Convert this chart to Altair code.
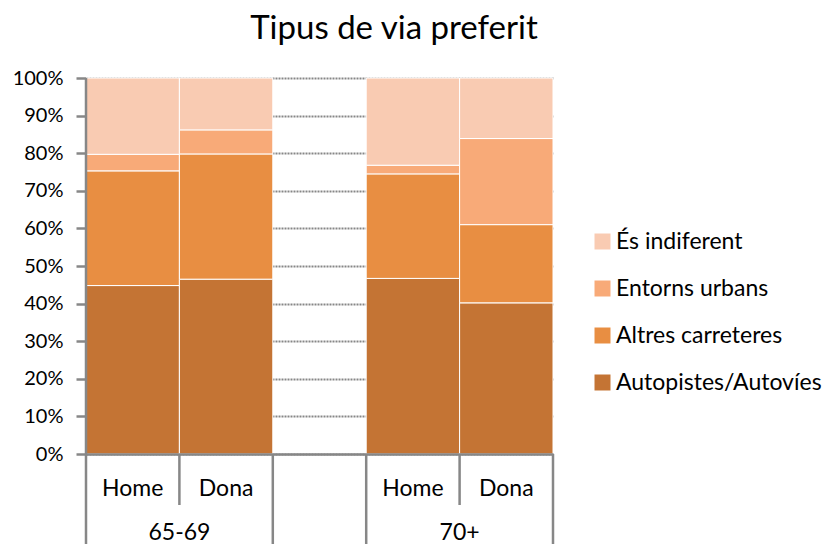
import altair as alt
import pandas as pd

# ---- data ----
slots = ["65-69 Home", "65-69 Dona", "buit", "70+ Home", "70+ Dona"]
bar_slots = ["65-69 Home", "65-69 Dona", "70+ Home", "70+ Dona"]
sub_labels = ["Home", "Dona", "Home", "Dona"]
group_labels = ["65-69", "70+"]
group_anchor_slots = ["65-69 Dona", "70+ Dona"]

series = ["Autopistes/Autovíes", "Altres carreteres", "Entorns urbans", "És indiferent"]
autopistes = [44.8, 46.5, 46.7, 40.2]
altres = [30.5, 33.3, 27.8, 20.8]
entorns = [4.4, 6.4, 2.3, 22.9]
indiferent = [20.3, 13.8, 23.2, 16.1]

colors = {
    "Autopistes/Autovíes": "#C47434",
    "Altres carreteres": "#E88E42",
    "Entorns urbans": "#F8AA78",
    "És indiferent": "#F9CBB2",
}
legend_order = ["És indiferent", "Entorns urbans", "Altres carreteres", "Autopistes/Autovíes"]
y_ticks = [0, 0.1, 0.2, 0.3, 0.4, 0.5, 0.6, 0.7, 0.8, 0.9, 1.0]
title_text = "Tipus de via preferit"

rows = []
for i, slot in enumerate(bar_slots):
    for k, (s, vals) in enumerate(zip(series, [autopistes, altres, entorns, indiferent])):
        rows.append({"slot": slot, "serie": s, "ord": k, "val": vals[i]})
df = pd.DataFrame(rows)

W, H = 467, 376
GRAY = "#878787"
FONT = "Lato"

x_scale = alt.Scale(domain=slots, paddingInner=0, paddingOuter=0)

bars = alt.Chart(df).mark_bar(stroke="white", strokeWidth=1).encode(
    x=alt.X("slot:N", scale=x_scale, title=None,
            axis=alt.Axis(labels=False, ticks=False, domainColor=GRAY,
                          domainWidth=2.5, zindex=1, grid=False)),
    y=alt.Y("val:Q", stack="normalize", title=None,
            scale=alt.Scale(domain=[0, 1], nice=False),
            axis=alt.Axis(values=y_ticks, format=".0%", domain=False,
                          tickColor=GRAY, tickWidth=2.5, tickSize=10,
                          labelPadding=13, labelFontSize=20, labelFont=FONT,
                          labelColor="black", grid=True, gridColor=GRAY,
                          gridWidth=2, gridDash=[2, 1])),
    color=alt.Color("serie:N",
                    scale=alt.Scale(domain=legend_order,
                                    range=[colors[s] for s in legend_order]),
                    legend=alt.Legend(title=None, orient="none", legendX=505,
                                      legendY=152, symbolType="square",
                                      symbolSize=256, symbolStrokeWidth=0,
                                      labelFontSize=23, labelFont=FONT,
                                      labelColor="black", rowPadding=23,
                                      labelOffset=2, padding=0, labelLimit=400)),
    order=alt.Order("ord:Q", sort="ascending"),
)

rule_axis = alt.Chart(pd.DataFrame({"slot": ["65-69 Home"]})).mark_rule(
    color=GRAY, strokeWidth=2.5).encode(
    x=alt.X("slot:N", scale=x_scale, bandPosition=0),
    y=alt.value(0), y2=alt.value(474))

rule_long = alt.Chart(pd.DataFrame({"slot": ["buit", "70+ Home"]})).mark_rule(
    color=GRAY, strokeWidth=2.5).encode(
    x=alt.X("slot:N", scale=x_scale, bandPosition=0),
    y=alt.value(H), y2=alt.value(474))

rule_end = alt.Chart(pd.DataFrame({"slot": ["70+ Dona"]})).mark_rule(
    color=GRAY, strokeWidth=2.5).encode(
    x=alt.X("slot:N", scale=x_scale, bandPosition=1),
    y=alt.value(H), y2=alt.value(474))

rule_short = alt.Chart(pd.DataFrame({"slot": ["65-69 Dona", "70+ Dona"]})).mark_rule(
    color=GRAY, strokeWidth=2.5).encode(
    x=alt.X("slot:N", scale=x_scale, bandPosition=0),
    y=alt.value(H), y2=alt.value(427))

sub_text = alt.Chart(pd.DataFrame({"slot": bar_slots, "lab": sub_labels})).mark_text(
    font=FONT, fontSize=23, color="black", baseline="alphabetic").encode(
    x=alt.X("slot:N", scale=x_scale),
    y=alt.value(418), text="lab:N")

group_text = alt.Chart(pd.DataFrame({"slot": group_anchor_slots, "lab": group_labels})).mark_text(
    font=FONT, fontSize=23, color="black", baseline="alphabetic").encode(
    x=alt.X("slot:N", scale=x_scale, bandPosition=0),
    y=alt.value(462), text="lab:N")

title = alt.Chart(pd.DataFrame({"t": [title_text]})).mark_text(
    font=FONT, fontSize=33, color="black", baseline="alphabetic", align="center").encode(
    x=alt.value(308), y=alt.value(-39), text="t:N")

chart = alt.layer(bars, rule_axis, rule_long, rule_end, rule_short,
                  sub_text, group_text, title).properties(
    width=W, height=H,
    autosize=alt.AutoSizeParams(type="none"),
    padding={"left": 78, "top": 70, "right": 277, "bottom": 90},
).configure_view(stroke=None)

chart.save("out.html", embed_options={"renderer": "svg", "actions": False})
